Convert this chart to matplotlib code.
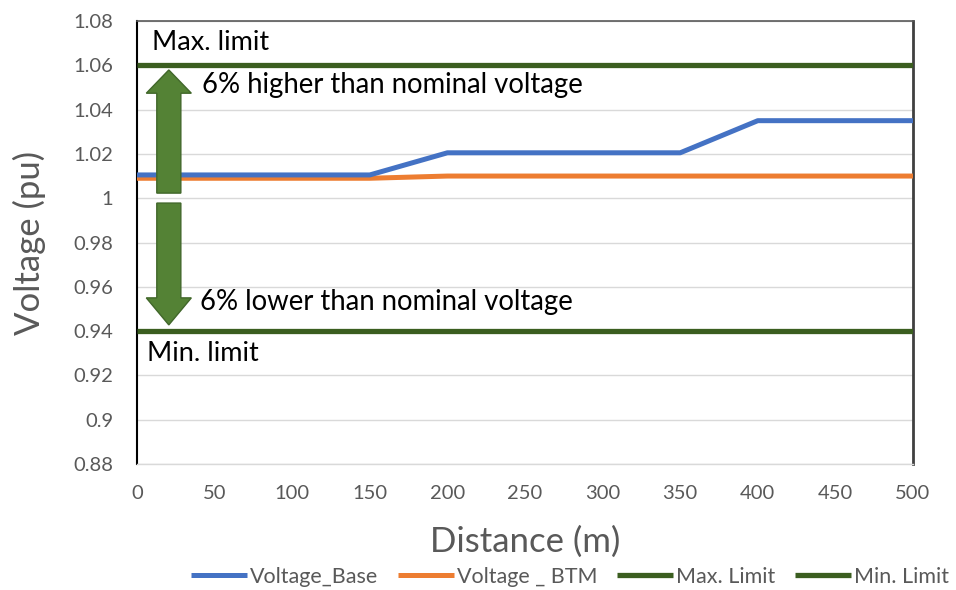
import matplotlib
matplotlib.use("Agg")
import matplotlib.pyplot as plt
from matplotlib.patches import FancyArrow

plt.rcParams['font.family'] = ['Lato', 'DejaVu Sans']

distance = [0, 50, 100, 150, 200, 250, 300, 350, 400, 450, 500]
voltage_base = [1.0105, 1.0105, 1.0105, 1.0105, 1.0205, 1.0205, 1.0205, 1.0205, 1.035, 1.035, 1.035]
voltage_btm = [1.009, 1.009, 1.009, 1.009, 1.010, 1.010, 1.010, 1.010, 1.010, 1.010, 1.010]
max_limit = [1.06] * len(distance)
min_limit = [0.94] * len(distance)
yticks = [0.88, 0.9, 0.92, 0.94, 0.96, 0.98, 1.0, 1.02, 1.04, 1.06, 1.08]
ytick_labels = ["0.88", "0.9", "0.92", "0.94", "0.96", "0.98", "1", "1.02", "1.04", "1.06", "1.08"]
xticks = [0, 50, 100, 150, 200, 250, 300, 350, 400, 450, 500]

fig = plt.figure(figsize=(9.56, 5.9), dpi=100)
ax = fig.add_axes([137/956, 1-464/590, (913-137)/956, (464-21)/590])

green = '#3b5e20'
ax.plot(distance, voltage_base, color='#4472C4', lw=3.6, label='Voltage_Base', solid_capstyle='butt', zorder=4)
ax.plot(distance, voltage_btm, color='#ED7D31', lw=3.6, label='Voltage _ BTM', solid_capstyle='butt', zorder=3)
ax.plot(distance, max_limit, color=green, lw=3.8, label='Max. Limit', solid_capstyle='butt', zorder=5)
ax.plot(distance, min_limit, color=green, lw=3.8, label='Min. Limit', solid_capstyle='butt', zorder=5)

ax.set_xlim(0, 500)
ax.set_ylim(0.88, 1.08)
ax.set_yticks(yticks)
ax.set_yticklabels(ytick_labels)
ax.set_xticks(xticks)
ax.grid(axis='y', color='#d9d9d9', lw=1)
ax.set_axisbelow(True)
ax.tick_params(length=0, labelsize=14.5, labelcolor='#595959')
ax.tick_params(axis='y', pad=17)
ax.tick_params(axis='x', pad=15)
ax.spines['left'].set_color('black')
ax.spines['left'].set_linewidth(1.5)
ax.spines['right'].set_color('#404040')
ax.spines['right'].set_linewidth(2)
ax.spines['top'].set_color('#595959')
ax.spines['top'].set_linewidth(1.2)
ax.spines['bottom'].set_color('#d9d9d9')
ax.spines['bottom'].set_linewidth(1)

ax.set_xlabel('Distance (m)', fontsize=25, color='#595959', labelpad=17)
ax.set_ylabel('Voltage (pu)', fontsize=25, color='#595959', labelpad=20)

# annotation arrows
afc = '#548235'
aec = '#41672a'
ax.add_patch(FancyArrow(20.5, 1.0023, 0, 0.0556, width=15.5, head_width=29, head_length=0.0105,
                        length_includes_head=True, fc=afc, ec=aec, lw=1, zorder=6))
ax.add_patch(FancyArrow(20.5, 0.9978, 0, -0.055, width=15.5, head_width=29, head_length=0.0122,
                        length_includes_head=True, fc=afc, ec=aec, lw=1, zorder=6))

ax.text(9.7, 1.0705, 'Max. limit', fontsize=19.5, color='black', va='center', ha='left')
ax.text(6.4, 0.9300, 'Min. limit', fontsize=19.5, color='black', va='center', ha='left')
ax.text(41.9, 1.0511, '6% higher than nominal voltage', fontsize=19.8, color='black', va='center', ha='left')
ax.text(40.6, 0.9531, '6% lower than nominal voltage', fontsize=19.8, color='black', va='center', ha='left')

leg = fig.legend(loc='center', bbox_to_anchor=(570/956, 1-577/590), ncol=4, frameon=False,
                 fontsize=15.5, handlelength=2.6, handletextpad=0.15, columnspacing=0.9,
                 labelcolor='#595959')

fig.savefig('out.png', dpi=100)
